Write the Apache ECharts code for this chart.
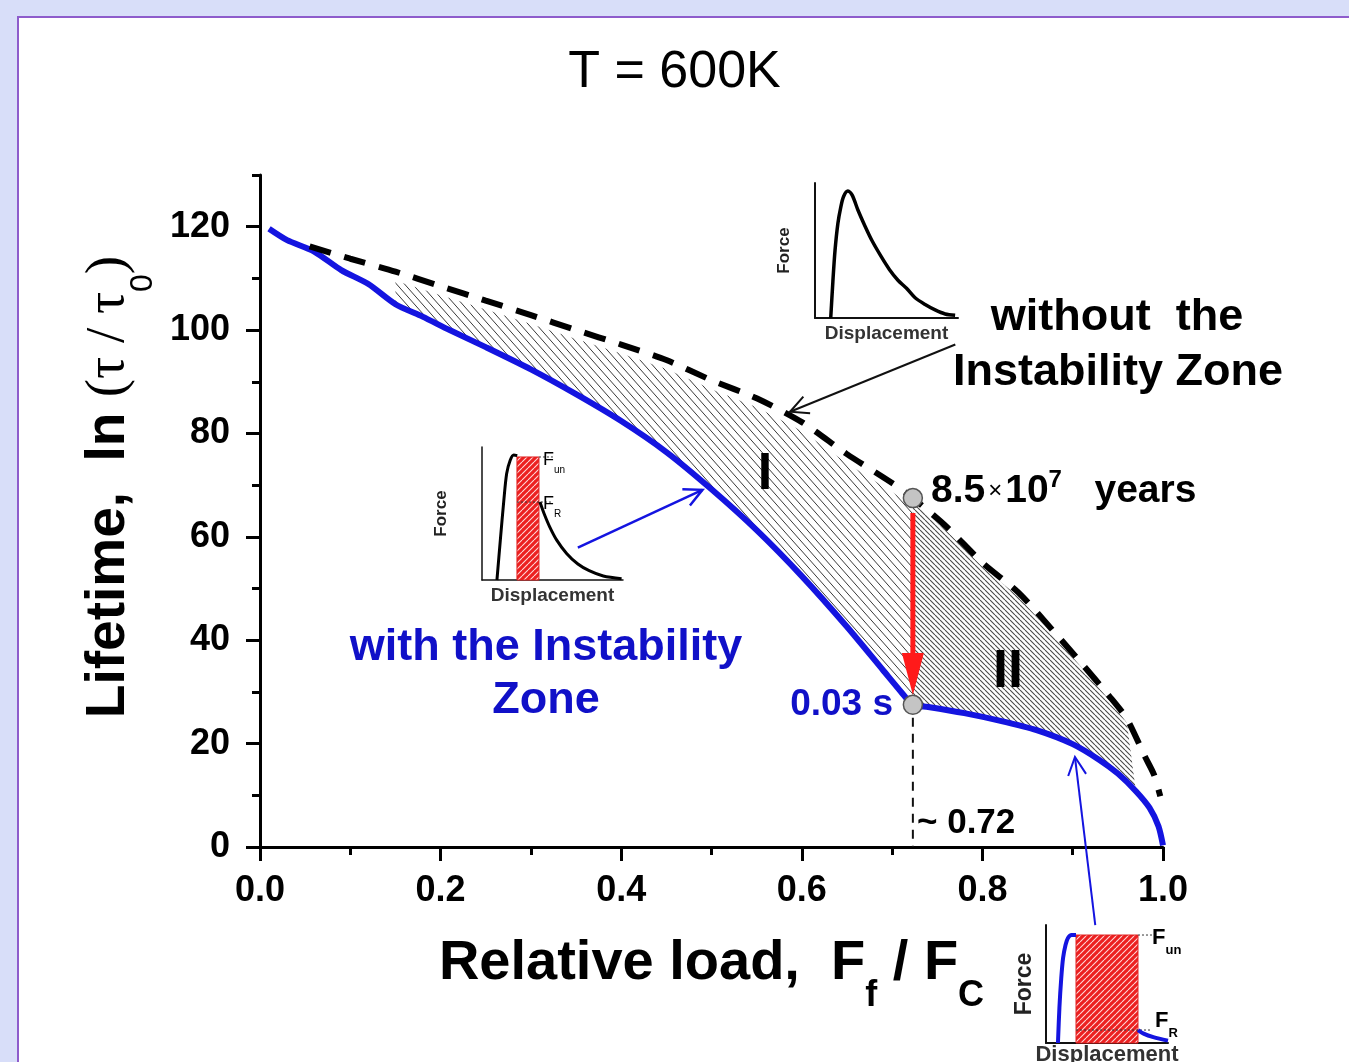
<!DOCTYPE html>
<html lang="en" style="height: 100%">
<head>
  <meta charset="utf-8">
  <title>Lifetime vs relative load, T = 600K</title>
</head>
<body style="height: 100%; margin: 0">
  <div id="container" style="height: 100%"></div>

  <script type="text/javascript" src="https://cdn.jsdelivr.net/npm/echarts@6/dist/echarts.min.js"></script>

  <script type="text/javascript">
    // lifetime with the instability zone (blue curve)
    var loadWith = [0.01, 0.03, 0.06, 0.09, 0.12, 0.15, 0.18, 0.21, 0.25, 0.30, 0.35, 0.40, 0.45, 0.50,
      0.55, 0.60, 0.65, 0.69, 0.71, 0.723, 0.74, 0.78, 0.82, 0.86, 0.90, 0.93, 0.95, 0.97, 0.985, 0.995, 1.0];
    var lifeWith = [119.6, 117.4, 115.2, 111.6, 108.9, 105.0, 102.6, 100.0, 96.7, 92.4, 87.6, 82.4, 76.4, 69.2,
      61.3, 52.4, 42.6, 34.2, 30.0, 27.5, 27.1, 25.9, 24.4, 22.6, 19.9, 16.8, 14.2, 10.8, 7.6, 4.0, 0.3];

    // lifetime without the instability zone (dashed curve)
    var loadWithout = [0.055, 0.10, 0.15, 0.20, 0.25, 0.30, 0.35, 0.40, 0.45, 0.50, 0.55, 0.60, 0.65, 0.70,
      0.723, 0.76, 0.80, 0.84, 0.88, 0.91, 0.94, 0.96, 0.98, 0.99, 0.997];
    var lifeWithout = [116.2, 113.8, 111.3, 108.5, 105.7, 102.9, 100.0, 97.2, 94.2, 90.3, 86.8, 82.2, 76.0, 70.4,
      67.5, 62.0, 55.0, 49.2, 41.5, 35.5, 29.3, 24.8, 17.5, 14.0, 9.8];

    // the two marked points at F/Fc ~ 0.72 (8.5e7 years and 0.03 s)
    var criticalLoad = [0.723, 0.723];
    var criticalLife = [67.5, 27.5];

    // hatched zones I and II (load range)
    var zoneBounds = [[0.15, 0.723], [0.723, 0.97]];

    // pointers: start / end in data units
    var pointerStart = [[0.723, 64.6], [0.77, 97.2], [0.352, 57.9], [0.925, -15.1], [0.723, 25.0]];
    var pointerEnd = [[0.723, 29.4], [0.587, 84.2], [0.49, 69.1], [0.9025, 17.4], [0.723, 0]];

    var xTicks = [0, 0.2, 0.4, 0.6, 0.8, 1.0];
    var yMajor = [0, 20, 40, 60, 80, 100, 120];
    var yMinor = [10, 30, 50, 70, 90, 110, 130];

    // inset sketches: force vs displacement (normalised)
    var dispA = [0.11, 0.125, 0.14, 0.16, 0.18, 0.20, 0.23, 0.26, 0.30, 0.35, 0.40, 0.46, 0.52, 0.58, 0.64, 0.70, 0.77, 0.84, 0.91, 0.98];
    var forceA = [0, 0.27, 0.5, 0.7, 0.82, 0.9, 0.94, 0.91, 0.8, 0.68, 0.57, 0.46, 0.36, 0.28, 0.22, 0.15, 0.1, 0.06, 0.03, 0.02];

    var dispB1 = [0.106, 0.13, 0.155, 0.175, 0.2, 0.225, 0.25];
    var forceB1 = [0, 0.3, 0.6, 0.8, 0.9, 0.94, 0.935];
    var dispB2 = [0.411, 0.44, 0.48, 0.53, 0.6, 0.68, 0.76, 0.86, 0.99];
    var forceB2 = [0.586, 0.5, 0.4, 0.3, 0.2, 0.12, 0.07, 0.03, 0.01];
    var zoneB = [0.248, 0.404, 0.925, 0.586]; // left, right, F_un, F_R

    var dispC1 = [0.098, 0.11, 0.125, 0.14, 0.16, 0.18, 0.21, 0.246];
    var forceC1 = [0, 0.3, 0.55, 0.72, 0.83, 0.89, 0.915, 0.915];
    var dispC2 = [0.754, 0.8, 0.88, 1.0];
    var forceC2 = [0.11, 0.08, 0.05, 0.02];
    var zoneC = [0.246, 0.754, 0.915, 0.11];

    var FONT = '"Liberation Sans", Arial, sans-serif';
    var BLUE = '#1414e0';
    var TEXT_BLUE = '#1010c8';

    function pairs(xs, ys) {
      return xs.map(function (x, i) { return [x, ys[i]]; });
    }

    // small repeating canvas for hatch fills
    function hatch(w, h, bg, fg, lw, flip) {
      var c = document.createElement('canvas');
      c.width = w; c.height = h;
      var ctx = c.getContext('2d');
      if (bg) { ctx.fillStyle = bg; ctx.fillRect(0, 0, w, h); }
      ctx.strokeStyle = fg;
      ctx.lineWidth = lw;
      ctx.beginPath();
      for (var k = -1; k <= 1; k++) {
        if (flip) { ctx.moveTo(k * w, h); ctx.lineTo(k * w + w, 0); }
        else { ctx.moveTo(k * w, 0); ctx.lineTo(k * w + w, h); }
      }
      ctx.stroke();
      return c;
    }

    var zoneFill = [
      { image: hatch(8, 9, null, '#3a3a3a', 1), repeat: 'repeat' },
      { image: hatch(5, 5, null, '#4a4a4a', 1.1), repeat: 'repeat' }
    ];
    var zoneInset = [9, 4]; // gap kept under the dashed curve, px
    var redFill = { image: hatch(6, 6, '#ec2020', '#ffd8d8', 1.1, true), repeat: 'repeat' };

    var pointerLook = [
      { color: '#ff1a1a', width: 5, head: 'solid', len: 42, half: 11 },
      { color: '#111', width: 2, head: 'open', len: 18, half: 9 },
      { color: BLUE, width: 2.5, head: 'open', len: 18, half: 9 },
      { color: BLUE, width: 2, head: 'open', len: 18, half: 9 },
      { color: '#111', width: 2, head: 'none', dash: [9, 7] }
    ];

    function renderZone(params, api) {
      var b = zoneBounds[params.dataIndex];
      var gap = zoneInset[params.dataIndex];
      var pts = [];
      for (var i = 0; i < loadWithout.length; i++) {
        if (loadWithout[i] >= b[0] && loadWithout[i] <= b[1]) {
          var p = api.coord([loadWithout[i], lifeWithout[i]]);
          pts.push([p[0], p[1] + gap]);
        }
      }
      for (var j = loadWith.length - 1; j >= 0; j--) {
        if (loadWith[j] >= b[0] && loadWith[j] <= b[1]) pts.push(api.coord([loadWith[j], lifeWith[j]]));
      }
      return { type: 'polygon', shape: { points: pts }, style: { fill: zoneFill[params.dataIndex], stroke: null } };
    }

    function renderPointer(params, api) {
      var s = api.coord([api.value(0), api.value(1)]);
      var e = api.coord([api.value(2), api.value(3)]);
      var look = pointerLook[params.dataIndex];
      var dx = e[0] - s[0], dy = e[1] - s[1];
      var d = Math.sqrt(dx * dx + dy * dy);
      var ux = dx / d, uy = dy / d, px = -uy, py = ux;
      var bx = e[0] - ux * look.len, by = e[1] - uy * look.len;
      var lineEnd = look.head === 'solid' ? [bx + ux * 4, by + uy * 4] : e;
      var children = [{
        type: 'line',
        shape: { x1: s[0], y1: s[1], x2: lineEnd[0], y2: lineEnd[1] },
        style: { stroke: look.color, lineWidth: look.width, lineDash: look.dash || null }
      }];
      if (look.head === 'solid') {
        children.push({
          type: 'polygon',
          shape: { points: [[e[0], e[1]], [bx + px * look.half, by + py * look.half], [bx - px * look.half, by - py * look.half]] },
          style: { fill: look.color }
        });
      } else if (look.head === 'open') {
        children.push({
          type: 'polyline',
          shape: { points: [[bx + px * look.half, by + py * look.half], [e[0], e[1]], [bx - px * look.half, by - py * look.half]] },
          style: { stroke: look.color, lineWidth: look.width, fill: 'none' }
        });
      }
      return { type: 'group', children: children };
    }

    function sketchZone(zone) {
      return function (params, api) {
        var lt = api.coord([zone[0], zone[2]]);
        var rb = api.coord([zone[1], 0]);
        var r1 = api.coord([zone[1], zone[2]]);
        var r2 = api.coord([zone[0], zone[3]]);
        var r3 = api.coord([zone[1], zone[3]]);
        var dot = { stroke: '#333', lineWidth: 1, lineDash: [2, 2] };
        return {
          type: 'group',
          children: [
            { type: 'rect', shape: { x: lt[0], y: lt[1], width: rb[0] - lt[0], height: rb[1] - lt[1] },
              style: { fill: redFill, stroke: '#e02020', lineWidth: 1 } },
            { type: 'line', shape: { x1: r1[0], y1: r1[1], x2: r1[0] + 14, y2: r1[1] }, style: dot },
            { type: 'line', shape: { x1: r2[0], y1: r2[1], x2: r3[0] + 14, y2: r3[1] }, style: dot }
          ]
        };
      };
    }

    function sketchX(grid, size) {
      return {
        type: 'value', gridIndex: grid, min: 0, max: 1,
        name: 'Displacement', nameLocation: 'middle', nameGap: size.xGap,
        nameTextStyle: { fontFamily: FONT, fontWeight: 'bold', fontSize: size.font, color: '#333' },
        axisLine: { lineStyle: { color: '#111', width: size.lw } },
        axisTick: { show: false }, axisLabel: { show: false }, splitLine: { show: false }
      };
    }
    function sketchY(grid, size) {
      return {
        type: 'value', gridIndex: grid, min: 0, max: 1,
        name: 'Force', nameLocation: 'middle', nameGap: size.yGap,
        nameTextStyle: { fontFamily: FONT, fontWeight: 'bold', fontSize: size.yFont, color: '#222' },
        axisLine: { lineStyle: { color: '#111', width: size.lw } },
        axisTick: { show: false }, axisLabel: { show: false }, splitLine: { show: false }
      };
    }
    var sizeA = { xGap: 6, font: 19, yGap: 22, yFont: 17, lw: 2 };
    var sizeB = { xGap: 6, font: 19, yGap: 32, yFont: 17, lw: 1.5 };
    var sizeC = { xGap: 1, font: 22, yGap: 10, yFont: 23, lw: 2 };

    function label(x, y, text, size, opts) {
      opts = opts || {};
      return {
        type: 'text', x: x, y: y, z: 100,
        style: {
          text: text,
          font: (opts.weight || 'bold') + ' ' + size + 'px ' + FONT,
          fill: opts.color || '#000',
          align: opts.align || 'center', textAlign: opts.align || 'center',
          verticalAlign: 'middle', textVerticalAlign: 'middle',
          rich: opts.rich
        }
      };
    }
    function subRich(size, sub, weight, color) {
      return {
        f: { fontFamily: FONT, fontSize: size, fontWeight: weight, color: color, lineHeight: size * 1.7 },
        s: { fontFamily: FONT, fontSize: sub, fontWeight: weight, color: color, lineHeight: sub, verticalAlign: 'bottom' }
      };
    }

    var dom = document.getElementById('container');
    var myChart = echarts.init(dom, null, { renderer: 'canvas' });

    var option = {
      animation: false,
      backgroundColor: '#d8def9',
      textStyle: { fontFamily: FONT },
      title: {
        text: 'T = 600K', left: 'center', top: 42,
        textStyle: { fontFamily: FONT, fontSize: 52, fontWeight: 'normal', color: '#000' }
      },
      grid: [
        { left: 260, top: 175, width: 903, height: 672, containLabel: false, outerBoundsMode: 'none' },
        { left: 815, top: 183, width: 143, height: 135, containLabel: false, outerBoundsMode: 'none' },
        { left: 482, top: 447, width: 141, height: 133, containLabel: false, outerBoundsMode: 'none' },
        { left: 1046, top: 925, width: 122, height: 118, containLabel: false, outerBoundsMode: 'none' }
      ],
      xAxis: [
        {
          type: 'value', gridIndex: 0, min: 0, max: 1, interval: 0.2,
          name: 'Relative load,  F{s|f} / F{s|C}', nameLocation: 'middle', nameGap: 54,
          nameTextStyle: { fontFamily: FONT, fontWeight: 'bold', fontSize: 56, color: '#000', lineHeight: 100,
            rich: subRich(56, 36, 'bold', '#000') },
          axisLine: { lineStyle: { color: '#000', width: 3 } },
          axisTick: { length: 14, lineStyle: { color: '#000', width: 3 } },
          minorTick: { show: true, splitNumber: 2, length: 8, lineStyle: { color: '#000', width: 3 } },
          axisLabel: { margin: 26, fontFamily: FONT, fontWeight: 'bold', fontSize: 36, color: '#000',
            customValues: xTicks, formatter: function (v) { return v.toFixed(1); } },
          splitLine: { show: false }, minorSplitLine: { show: false }
        },
        sketchX(1, sizeA), sketchX(2, sizeB), sketchX(3, sizeC)
      ],
      yAxis: [
        {
          type: 'value', gridIndex: 0, min: 0, max: 130, position: 'left',
          name: 'Lifetime,  ln {g|(τ / τ}{s|0}{g|)}', nameLocation: 'middle', nameGap: 98, nameRotate: 90,
          nameTextStyle: { fontFamily: FONT, fontWeight: 'bold', fontSize: 55, color: '#000', lineHeight: 100,
            padding: [0, 0, 0, 48],
            rich: {
              g: { fontFamily: '"Liberation Serif", serif', fontWeight: 'normal', fontSize: 55, color: '#000', lineHeight: 100 },
              s: { fontFamily: FONT, fontWeight: 'normal', fontSize: 32, color: '#000', lineHeight: 32, verticalAlign: 'bottom' }
            } },
          axisLine: { lineStyle: { color: '#000', width: 3 } },
          axisTick: { length: 14, customValues: yMajor, lineStyle: { color: '#000', width: 3 } },
          axisLabel: { margin: 30, customValues: yMajor, fontFamily: FONT, fontWeight: 'bold', fontSize: 36, color: '#000' },
          splitLine: { show: false }
        },
        {
          type: 'value', gridIndex: 0, min: 0, max: 130, position: 'left',
          axisLine: { show: false },
          axisTick: { length: 8, customValues: yMinor, lineStyle: { color: '#000', width: 3 } },
          axisLabel: { show: false },
          splitLine: { show: false }
        },
        sketchY(1, sizeA), sketchY(2, sizeB), sketchY(3, sizeC)
      ],
      graphic: [
        { type: 'rect', z: -100, shape: { x: 18, y: 17, width: 1400, height: 1100 },
          style: { fill: '#fff', stroke: '#8e5ccc', lineWidth: 2 } },
        label(1117, 318, 'without  the', 45),
        label(1118, 373, 'Instability Zone', 45),
        label(931, 491, '{a|8.5}{m|×}{a|10}{p|7}{a|   years}', 39, { align: 'left', rich: {
          a: { fontFamily: FONT, fontWeight: 'bold', fontSize: 39, color: '#000', lineHeight: 46 },
          m: { fontFamily: FONT, fontWeight: 'normal', fontSize: 24, color: '#888', lineHeight: 46, padding: [0, 3, 0, 3] },
          p: { fontFamily: FONT, fontWeight: 'bold', fontSize: 24, color: '#000', lineHeight: 24, verticalAlign: 'top' }
        } }),
        label(893, 705, '0.03 s', 37, { align: 'right', color: TEXT_BLUE }),
        label(917, 823, '~ 0.72', 35, { align: 'left' }),
        label(765, 475, 'I', 52),
        label(1008, 672, 'II', 54),
        label(546, 648, 'with the Instability', 45, { color: TEXT_BLUE }),
        label(546, 701, 'Zone', 45, { color: TEXT_BLUE }),
        label(543, 460, '{f|F}{s|un}', 18, { align: 'left', rich: subRich(18, 10, 'normal', '#222') }),
        label(543, 504, '{f|F}{s|R}', 18, { align: 'left', rich: subRich(18, 10, 'normal', '#222') }),
        label(1152, 938, '{f|F}{s|un}', 22, { align: 'left', rich: subRich(22, 13, 'bold', '#111') }),
        label(1155, 1021, '{f|F}{s|R}', 22, { align: 'left', rich: subRich(22, 13, 'bold', '#111') })
      ],
      series: [
        {
          name: 'zones', type: 'custom', xAxisIndex: 0, yAxisIndex: 0, z: 1, silent: true,
          data: zoneBounds.map(function (b) { return [b[0], 50]; }),
          renderItem: renderZone
        },
        {
          name: 'with the instability zone', type: 'line', xAxisIndex: 0, yAxisIndex: 0, z: 3,
          data: pairs(loadWith, lifeWith), showSymbol: false, smooth: 0.25,
          lineStyle: { color: BLUE, width: 6 }
        },
        {
          name: 'without the instability zone', type: 'line', xAxisIndex: 0, yAxisIndex: 0, z: 4,
          data: pairs(loadWithout, lifeWithout), showSymbol: false, smooth: 0.25,
          lineStyle: { color: '#000', width: 6, type: [22, 14] }
        },
        {
          name: 'pointers', type: 'custom', xAxisIndex: 0, yAxisIndex: 0, z: 5, clip: false, silent: true,
          data: pointerStart.map(function (p, i) { return [p[0], p[1], pointerEnd[i][0], pointerEnd[i][1]]; }),
          encode: { x: [0, 2], y: [1, 3] },
          renderItem: renderPointer
        },
        {
          name: 'critical points', type: 'scatter', xAxisIndex: 0, yAxisIndex: 0, z: 6,
          data: pairs(criticalLoad, criticalLife), symbolSize: 19,
          itemStyle: { color: '#c4c4c4', borderColor: '#555', borderWidth: 1.5, opacity: 1 }
        },
        {
          type: 'line', xAxisIndex: 1, yAxisIndex: 2, data: pairs(dispA, forceA), showSymbol: false, smooth: 0.3,
          lineStyle: { color: '#000', width: 3.5 }
        },
        {
          type: 'custom', xAxisIndex: 2, yAxisIndex: 3, data: [[0.5, 0.5]], renderItem: sketchZone(zoneB), silent: true
        },
        {
          type: 'line', xAxisIndex: 2, yAxisIndex: 3, data: pairs(dispB1, forceB1), showSymbol: false, smooth: 0.3,
          lineStyle: { color: '#000', width: 3 }
        },
        {
          type: 'line', xAxisIndex: 2, yAxisIndex: 3, data: pairs(dispB2, forceB2), showSymbol: false, smooth: 0.3,
          lineStyle: { color: '#000', width: 3 }
        },
        {
          type: 'custom', xAxisIndex: 3, yAxisIndex: 4, data: [[0.5, 0.5]], renderItem: sketchZone(zoneC), silent: true
        },
        {
          type: 'line', xAxisIndex: 3, yAxisIndex: 4, data: pairs(dispC1, forceC1), showSymbol: false, smooth: 0.3,
          lineStyle: { color: BLUE, width: 4 }
        },
        {
          type: 'line', xAxisIndex: 3, yAxisIndex: 4, data: pairs(dispC2, forceC2), showSymbol: false, smooth: 0.3,
          lineStyle: { color: BLUE, width: 4 }
        }
      ]
    };

    myChart.setOption(option);

    window.addEventListener('resize', function () {
      myChart.resize();
    });
  </script>
</body>
</html>
